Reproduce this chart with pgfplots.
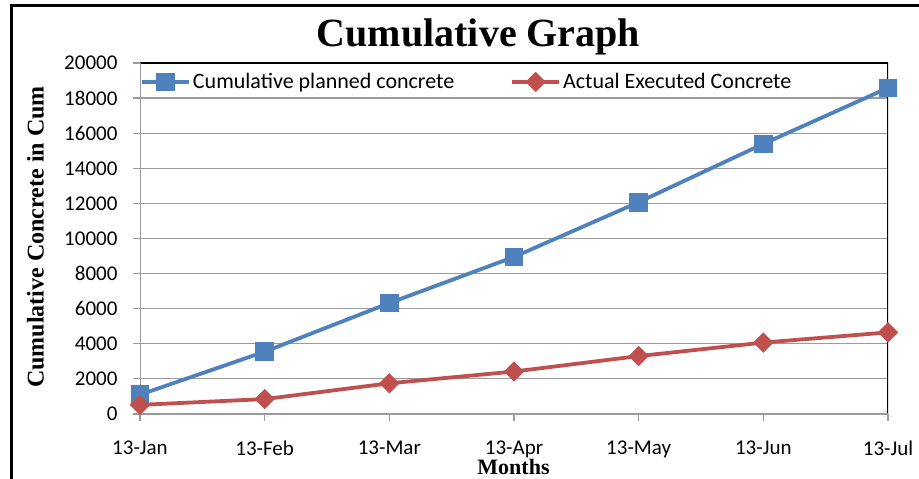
\documentclass[border=0pt]{standalone}
\usepackage{fontspec}
\setmainfont{Carlito}
\newfontfamily\serifb{Liberation Serif}
\usepackage{pgfplots}
\pgfplotsset{compat=1.18}
\definecolor{pblue}{RGB}{79,129,189}
\definecolor{pred}{RGB}{192,80,77}
\definecolor{gridc}{RGB}{155,155,155}
\begin{document}
\begin{tikzpicture}[x=1pt,y=1pt]
\path[use as bounding box] (0,0) rectangle (919,479);
\draw[line width=3pt] (11.5,-5) -- (11.5,473) -- (930,473);
\node[anchor=base] at (478.5,432) {\serifb\bfseries\fontsize{40}{42}\selectfont Cumulative Graph};
\node[rotate=90, anchor=base] at (43.5,242) {\serifb\bfseries\fontsize{24}{26}\selectfont Cumulative Concrete in Cum};
\node[anchor=base] at (513.5,4) {\serifb\bfseries\fontsize{22}{24}\selectfont Months};
\begin{axis}[
  scale only axis, width=748pt, height=351pt,
  at={(140pt,65pt)}, anchor=south west,
  xmin=0, xmax=6, ymin=0, ymax=20000,
  xtick={0,...,6},
  xticklabels={13-Jan,13-Feb,13-Mar,13-Apr,13-May,13-Jun,13-Jul},
  ytick={0,2000,...,20000},
  scaled y ticks=false,
  /pgf/number format/assume math mode=true,
  /pgf/number format/1000 sep={},
  xtick pos=bottom, ytick pos=left,
  tick align=outside, major tick length=7pt,
  tick style={gridc, line width=1.2pt},
  ymajorgrids, grid style={gridc, line width=1.2pt},
  axis line style={draw=none},
  tick label style={font=\fontsize{21}{22}\selectfont},
  yticklabel style={xshift=-12pt},
  xticklabel style={yshift=-16pt},
  legend columns=2,
  legend style={at={(axis description cs:0.0,0.946)}, anchor=west, draw=none, fill=none,
    inner sep=0pt, font=\fontsize{22}{23}\selectfont,
    /tikz/every even column/.append style={column sep=54pt}},
  legend image code/.code={\draw[mark repeat=2, mark phase=2] plot coordinates {(0pt,0pt) (23.5pt,0pt) (47pt,0pt)};},
]
\draw[black, line width=1.3pt] (rel axis cs:0,1) -- (rel axis cs:1,1) -- (rel axis cs:1,0);
\draw[gridc, line width=1.3pt] (rel axis cs:0,1) -- (rel axis cs:0,0) -- (rel axis cs:1,0);
\addplot[pblue, line width=3.8pt, mark=square*, mark size=7.5pt, mark options={solid}]
  coordinates {(0,1100) (1,3550) (2,6320) (3,8950) (4,12070) (5,15390) (6,18580)};
\addlegendentry{Cumulative planned concrete}
\addplot[pred, line width=3.8pt, mark=square*, mark size=5.3pt, mark options={solid, rotate=45}]
  coordinates {(0,520) (1,850) (2,1750) (3,2420) (4,3300) (5,4070) (6,4650)};
\addlegendentry{Actual Executed Concrete}
\end{axis}
\end{tikzpicture}
\end{document}
